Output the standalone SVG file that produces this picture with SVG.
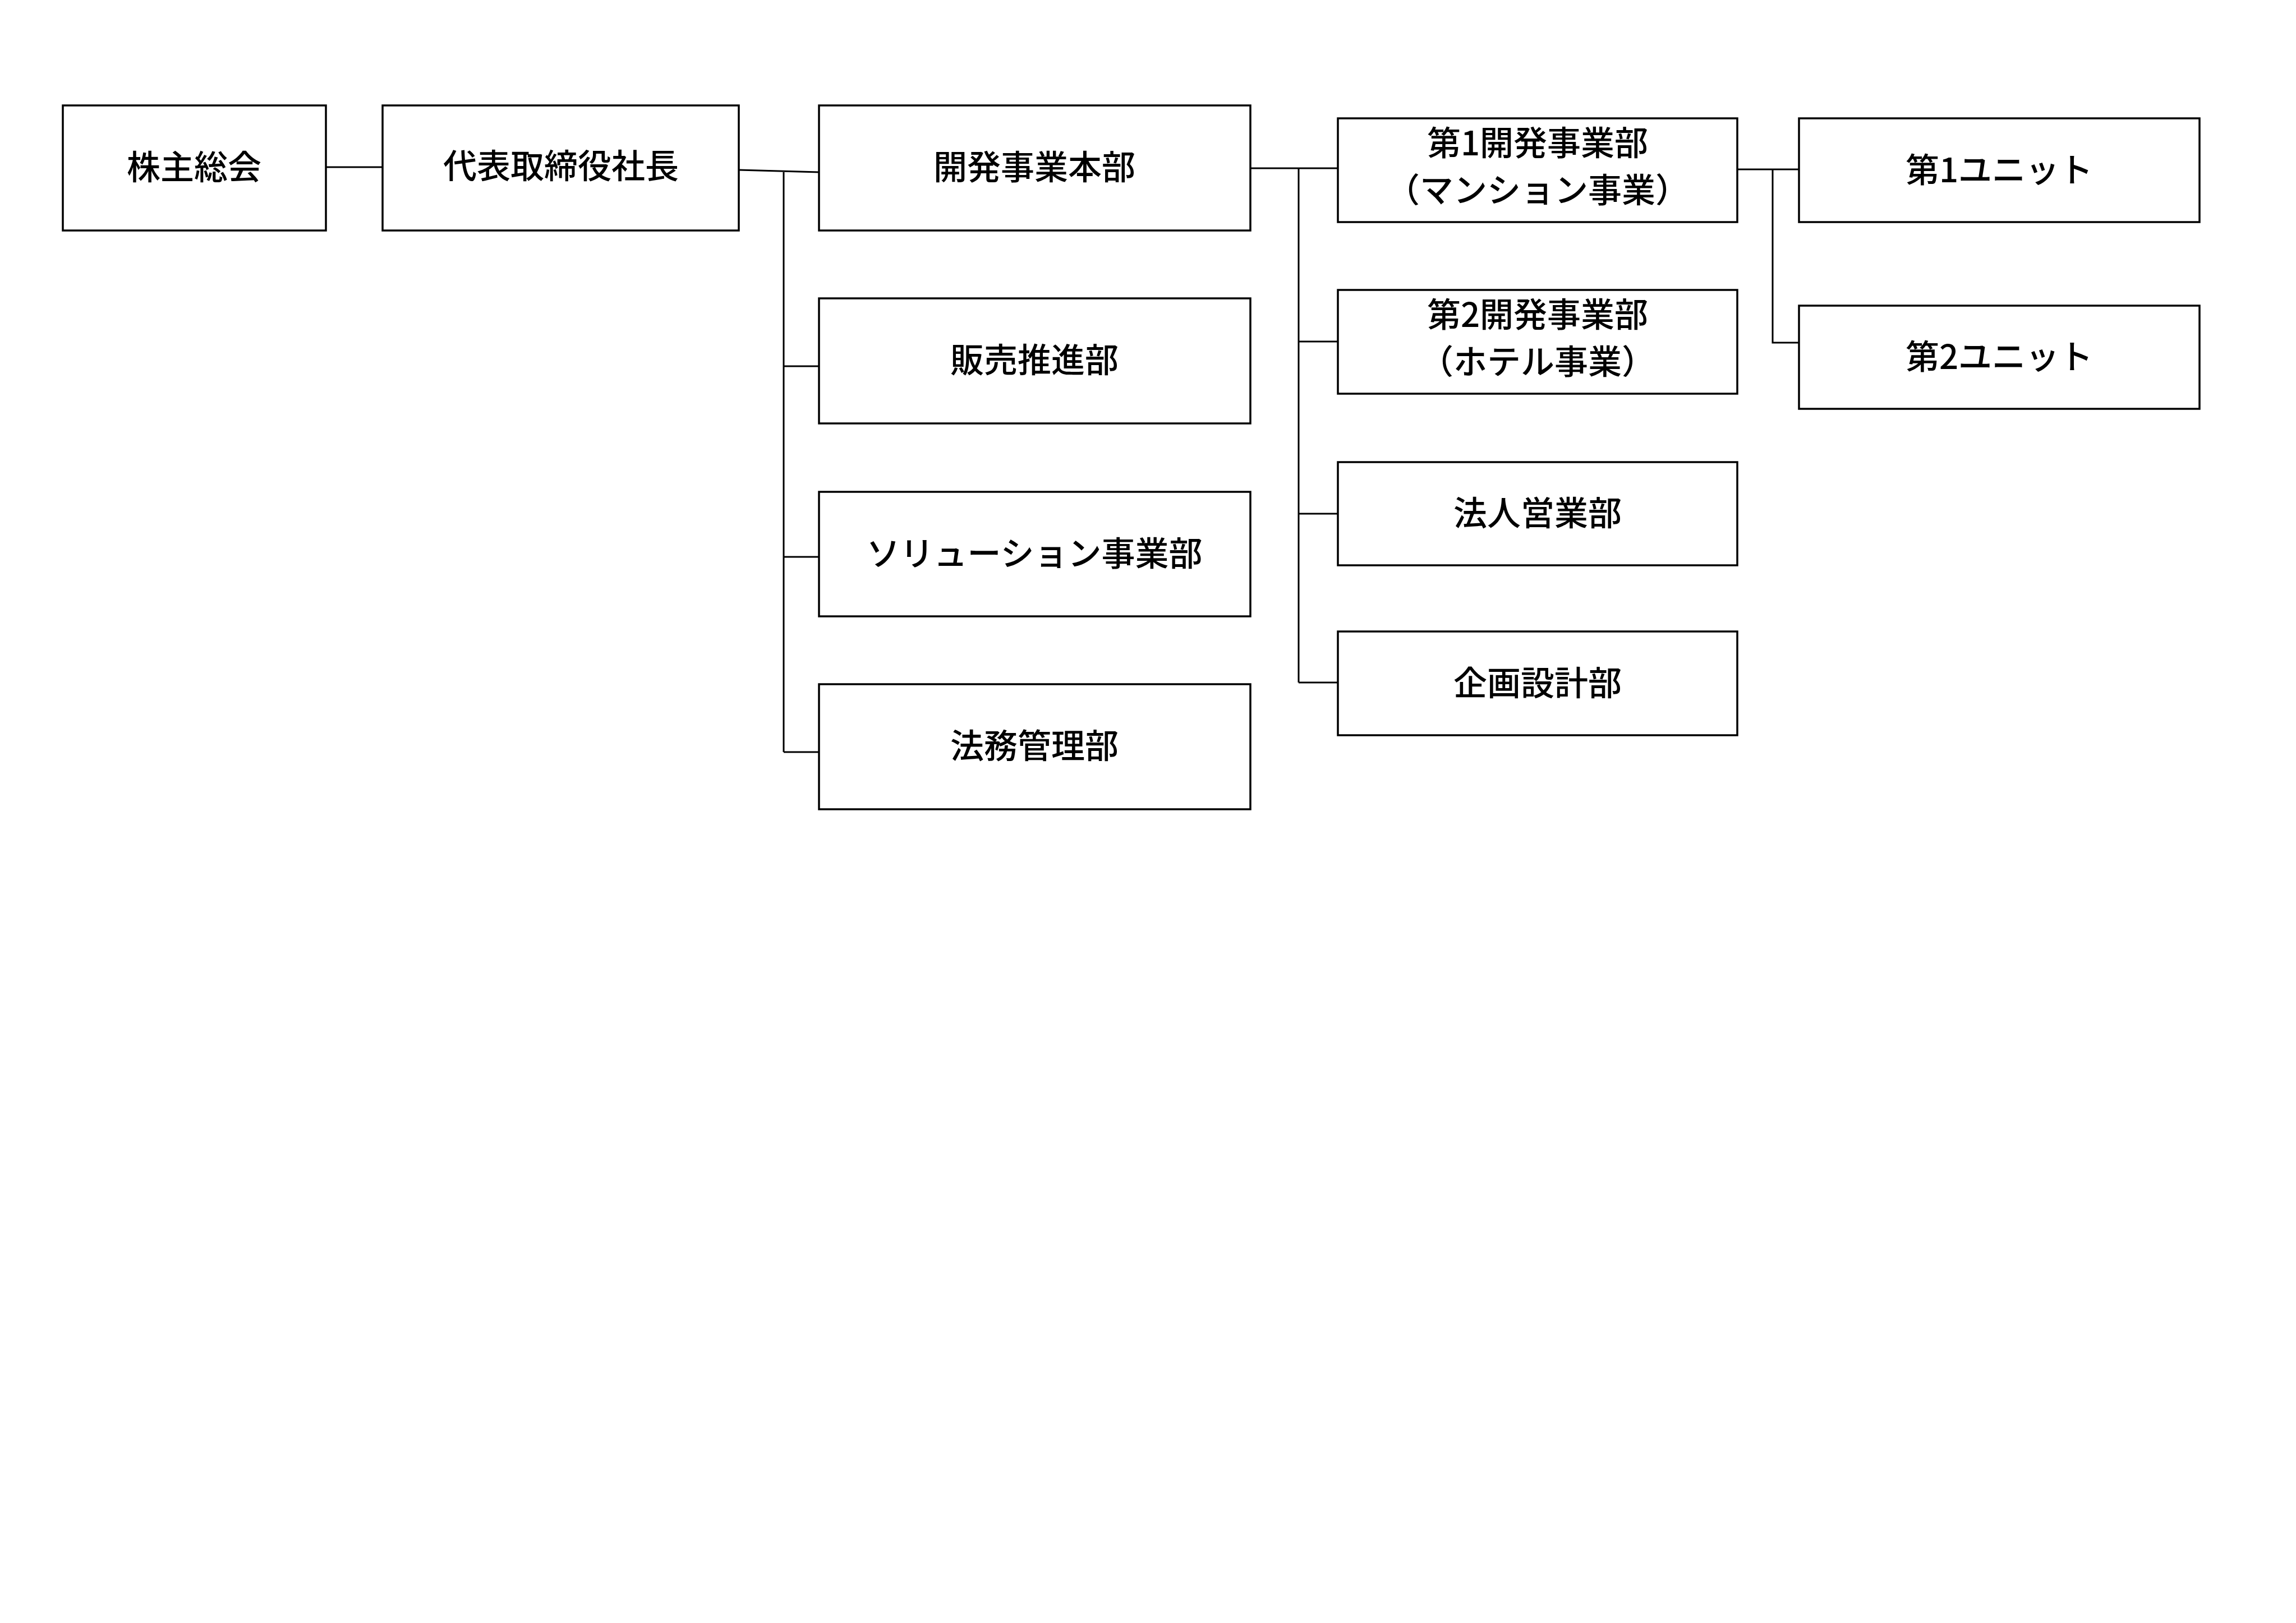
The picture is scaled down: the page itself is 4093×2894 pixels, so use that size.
<svg xmlns="http://www.w3.org/2000/svg" width="4093" height="2894" viewBox="0 0 4093 2894">
<style>
rect{fill:#fff;stroke:#000;stroke-width:3.5}
.c line,.c polyline{stroke:#000;stroke-width:3;fill:none}
text{font-family:"Noto Sans CJK JP","Noto Sans",sans-serif;font-size:60px;font-weight:500;text-anchor:middle;fill:#000}
</style>
<rect x="0" y="0" width="4093" height="2894" style="stroke:none"/>
<g class="c">
<line x1="581" y1="298" x2="682" y2="298"/>
<line x1="1317" y1="303" x2="1460" y2="307"/>
<line x1="1397" y1="307" x2="1397" y2="1341"/>
<line x1="1397" y1="653" x2="1460" y2="653"/>
<line x1="1397" y1="993" x2="1460" y2="993"/>
<line x1="1397" y1="1341" x2="1460" y2="1341"/>
<line x1="2229" y1="300" x2="2385" y2="300"/>
<line x1="2315" y1="300" x2="2315" y2="1217"/>
<line x1="2315" y1="609" x2="2385" y2="609"/>
<line x1="2315" y1="916" x2="2385" y2="916"/>
<line x1="2315" y1="1217" x2="2385" y2="1217"/>
<line x1="3097" y1="302" x2="3207" y2="302"/>
<polyline points="3160,302 3160,611 3207,611"/>
</g>
<g id="n1"><rect x="112" y="188" width="469" height="223"/><text x="346" y="320">株主総会</text></g>
<g id="n2"><rect x="682" y="188" width="635" height="223"/><text x="1000" y="318">代表取締役社長</text></g>
<g id="n3"><rect x="1460" y="188" width="769" height="223"/><text x="1844" y="320">開発事業本部</text></g>
<g id="n4"><rect x="1460" y="532" width="769" height="223"/><text x="1844" y="664">販売推進部</text></g>
<g id="n5"><rect x="1460" y="877" width="769" height="222"/><text x="1844" y="1009">ソリューション事業部</text></g>
<g id="n6"><rect x="1460" y="1220" width="769" height="223"/><text x="1844" y="1352">法務管理部</text></g>
<g id="n7"><rect x="2385" y="211" width="712" height="185"/><text x="2741" y="277">第1開発事業部</text><text x="2741" y="361">（マンション事業）</text></g>
<g id="n8"><rect x="2385" y="517" width="712" height="185"/><text x="2741" y="583">第2開発事業部</text><text x="2741" y="667">（ホテル事業）</text></g>
<g id="n9"><rect x="2385" y="824" width="712" height="184"/><text x="2741" y="937">法人営業部</text></g>
<g id="n10"><rect x="2385" y="1126" width="712" height="185"/><text x="2741" y="1240">企画設計部</text></g>
<g id="n11"><rect x="3207" y="211" width="714" height="185"/><text x="3564" y="325">第1ユニット</text></g>
<g id="n12"><rect x="3207" y="545" width="714" height="184"/><text x="3564" y="658">第2ユニット</text></g>
</svg>
